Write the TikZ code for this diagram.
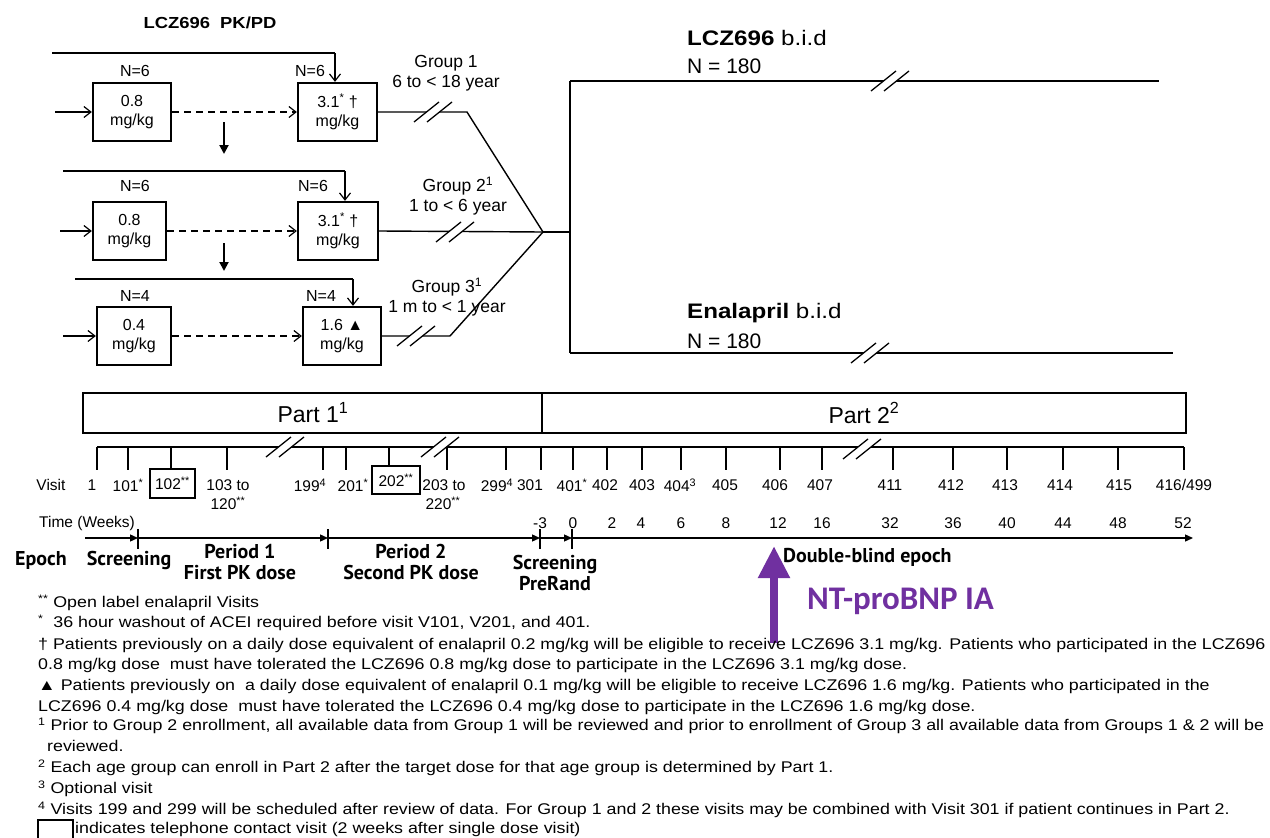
\documentclass[tikz,border=0pt]{standalone}
\usepackage{fontspec}
\setmainfont{Liberation Sans}
\newfontfamily\fnfont{Liberation Sans}[FakeStretch=1.15]
\newfontfamily\epfont{PT Sans}
\newfontfamily\ntfont{Carlito}
\usetikzlibrary{arrows.meta,calc}
\definecolor{ntpurple}{RGB}{112,48,160}
\tikzset{
  dosebox/.style={draw, line width=2.3pt, align=center, inner sep=0pt, minimum height=58pt, font=\fontsize{16}{19}\selectfont},
  nlab/.style={inner sep=0pt, font=\fontsize{16}{19}\selectfont},
  glab/.style={inner sep=0pt, align=center, font=\fontsize{17.5}{20.5}\selectfont},
  ln/.style={line width=1.4pt},
  openarr/.style={ln, -{Straight Barb[length=7pt,width=11pt,line width=1.2pt]}},
  fillarr/.style={line width=2pt, -{Triangle[length=9pt,width=9pt]}},
  vlab/.style={inner sep=0pt, font=\fontsize{15.5}{18}\selectfont},
  eplab/.style={inner sep=0pt, align=center, font=\epfont\bfseries\fontsize{20}{21.5}\selectfont},
  fn/.style={inner sep=0pt, anchor=west, font=\fnfont\fontsize{15.5}{18}\selectfont},
  armlab/.style={inner sep=0pt, anchor=west, font=\fnfont\fontsize{21}{24}\selectfont},
  armn/.style={inner sep=0pt, anchor=west, font=\fontsize{21}{24}\selectfont},
  partlab/.style={inner sep=0pt, font=\fontsize{23}{26}\selectfont},
  brk/.pic={
    \fill[white] (-19,10) -- (6,-10) -- (19,-10) -- (-6,10) -- cycle;
    \draw[line width=1.3pt] (-19,10) -- (6,-10);
    \draw[line width=1.3pt] (-6,10) -- (19,-10);
  },
  tlarr/.style={line width=1.3pt, -{Triangle[length=8pt,width=7pt]}},
}
\begin{document}
\begin{tikzpicture}[x=1pt,y=-1pt]
\useasboundingbox (0,0) rectangle (1270,838);
\fill[white] (0,0) rectangle (1270,838);

% title
\node[inner sep=0pt, font=\fnfont\bfseries\fontsize{16}{19}\selectfont] (title) at (210,23) {LCZ696\ \ PK/PD};

% ---------- dose boxes ----------
\node[dosebox, minimum width=78pt] (b11) at (132,112) {0.8\\mg/kg};
\node[dosebox, minimum width=79pt] (b12) at (337.5,112) {3.1\textsuperscript{*} †\\mg/kg};
\node[dosebox, minimum width=73pt] (b21) at (129.5,231) {0.8\\mg/kg};
\node[dosebox, minimum width=80pt] (b22) at (338,231) {3.1\textsuperscript{*} †\\mg/kg};
\node[dosebox, minimum width=74pt] (b31) at (134,336) {0.4\\mg/kg};
\node[dosebox, minimum width=78pt] (b32) at (342,336) {1.6 ▲\\mg/kg};

\node[nlab] (n11) at (135,71) {N=6};
\node[nlab] (n12) at (310,71) {N=6};
\node[nlab] (n21) at (135,186) {N=6};
\node[nlab] (n22) at (313,186) {N=6};
\node[nlab] (n31) at (135,296) {N=4};
\node[nlab] (n32) at (321,296) {N=4};

% input arrows
\coordinate (i1) at (55,112);
\coordinate (i2) at (60,231);
\coordinate (i3) at (63,336);
\draw[openarr] (i1) -- (b11.west);
\draw[openarr] (i2) -- (b21.west);
\draw[openarr] (i3) -- (b31.west);
% dashed
\draw[openarr, dashed, dash pattern=on 7pt off 5pt] (b11.east) -- (b12.west);
\draw[openarr, dashed, dash pattern=on 7pt off 5pt] (b21.east) -- (b22.west);
\draw[openarr, dashed, dash pattern=on 7pt off 5pt] (b31.east) -- (b32.west);
% top lines
\coordinate (t1) at (52,53);  \coordinate (a1) at (335,53);
\coordinate (t2) at (63,171); \coordinate (a2) at (345,171);
\coordinate (t3) at (75,279); \coordinate (a3) at (353,279);
\draw[ln] (t1) -- (a1);
\draw[openarr] (a1) -- (a1 |- b12.north);
\draw[ln] (t2) -- (a2);
\draw[openarr] (a2) -- (a2 |- b22.north);
\draw[ln] (t3) -- (a3);
\draw[openarr] (a3) -- (a3 |- b32.north);
% down arrows
\coordinate (d1a) at (224,122); \coordinate (d1b) at (224,154);
\coordinate (d2a) at (224,243); \coordinate (d2b) at (224,271);
\draw[fillarr] (d1a) -- (d1b);
\draw[fillarr] (d2a) -- (d2b);

% outputs to merge
\coordinate (m) at (543,232);
\coordinate (k1) at (467,112);
\coordinate (k3) at (450,336);
\draw[ln] (b12.east) -- (k1) -- (m);
\draw[ln] (b22.east) -- (m);
\draw[ln] (b32.east) -- (k3) -- (m);
\coordinate (vm) at (570,232);
\coordinate (vt) at (570,81);
\coordinate (vb) at (570,353);
\coordinate (et) at (1159,81);
\coordinate (eb) at (1173,353);
\draw[ln] (m) -- (vm);
\draw[ln] (vt) -- (vb);
\draw[ln] (vt) -- (et);
\draw[ln] (vb) -- (eb);

\node[glab] (g1) at (446,73) {Group 1\\6 to < 18 year};
\node[glab] (g2) at (458,196) {Group 2\textsuperscript{1}\\1 to < 6 year};
\node[glab] (g3) at (447,297) {Group 3\textsuperscript{1}\\1 m to < 1 year};

\node[armlab] (arm1) at (687,38) {\textbf{LCZ696} b.i.d};
\node[armn] (arm1n) at (687,66) {N = 180};
\node[armlab] (arm2) at (687,313) {\textbf{Enalapril} b.i.d};
\node[armn] (arm2n) at (687,341) {N = 180};

% ---------- Part boxes ----------
\draw[line width=2.3pt] (83,393) rectangle (1186,433);
\draw[line width=2.3pt] (542,393) -- (542,433);
\node[partlab] (p1) at (313,413) {Part 1\textsuperscript{1}};
\node[partlab] (p2) at (864,413) {Part 2\textsuperscript{2}};

% ---------- visit line ----------
\coordinate (vl0) at (97,447);
\coordinate (vl1) at (1184,447);
\draw[line width=1.3pt] (vl0) -- (vl1);
\foreach \x in {97,128,227,323,346,447,506,541,573,607,642,681,726,780,822,893,953,1007,1063,1118,1184}
  \draw[line width=1.3pt] (\x,447) -- (\x,470);
\draw[line width=1.3pt] (171,447) -- (171,469);
\draw[line width=1.3pt] (389,447) -- (389,466);

% breaks
\pic at (433,112) {brk};
\pic at (455,232) {brk};
\pic at (416,336) {brk};
\pic at (890,81) {brk};
\pic at (870,353) {brk};
\pic at (285,447) {brk};
\pic at (440,447) {brk};
\pic at (862,449) {brk};

% visit labels
\node[vlab] (vis) at (51,485) {Visit};
\node[draw, line width=1.3pt, minimum width=45pt, minimum height=29pt, inner sep=0pt, font=\fontsize{15.5}{18}\selectfont] (bx102) at (172.5,483.5) {102\textsuperscript{**}};
\node[draw, line width=1.3pt, minimum width=48pt, minimum height=28pt, inner sep=0pt, font=\fontsize{15.5}{18}\selectfont] (bx202) at (396,480) {202\textsuperscript{**}};
\foreach \x/\t [count=\i] in {92/1, 128/{101\textsuperscript{*}}, 228/{103 to}, 310/{199\textsuperscript{4}}, 353/{201\textsuperscript{*}}, 444/{203 to}, 497/{299\textsuperscript{4}}, 530/301, 572/{401\textsuperscript{*}}, 605/402, 642/403, 680/{404\textsuperscript{3}}, 725/405, 775/406, 820/407, 890/411, 951/412, 1005/413, 1060/414, 1119/415}
  \node[vlab] (v\i) at (\x,485) {\t};
\node[vlab] (v416) at (1184,485) {416/499};
\node[vlab] (v120) at (228,503) {120\textsuperscript{**}};
\node[vlab] (v220) at (443,503) {220\textsuperscript{**}};

% time labels
\node[vlab] (tw) at (87,523) {Time (Weeks)};
\foreach \x/\t [count=\i] in {540/-3, 573/0, 612/2, 641/4, 681/6, 726/8, 778/12, 822/16, 890/32, 953/36, 1007/40, 1063/44, 1118/48, 1183/52}
  \node[vlab] (w\i) at (\x,523) {\t};

% epoch arrow line
\coordinate (e0) at (85,538);
\coordinate (e1) at (138,538);
\coordinate (e2) at (328,538);
\coordinate (e3) at (540,538);
\coordinate (e4) at (572,538);
\coordinate (e5) at (1193,538);
\draw[tlarr] (e0) -- (e1);
\draw[tlarr] (e1) -- (e2);
\draw[tlarr] (e2) -- (e3);
\draw[tlarr] (e3) -- (e4);
\draw[tlarr] (e4) -- (e5);
\foreach \c in {e1,e2,e3,e4}
  \draw[line width=1.3pt] ($(\c)+(0,-9)$) -- ($(\c)+(0,11)$);

\node[eplab] (ep) at (41,560) {Epoch};
\node[eplab] (ep1) at (129,560) {Screening};
\node[eplab] (ep2) at (240,562) {Period 1\\First PK dose};
\node[eplab] (ep3) at (411,562) {Period 2\\Second PK dose};
\node[eplab] (ep4) at (555,573) {Screening\\PreRand};
\node[eplab, anchor=west] (ep5) at (783,557) {Double-blind epoch};

% NT-proBNP arrow
\coordinate (pa0) at (774,643);
\coordinate (pa1) at (774,546);
\draw[ntpurple, line width=8pt, -{Triangle[length=32pt,width=30pt]}] (pa0) -- (pa1);
\node[inner sep=0pt, anchor=west, text=ntpurple, font=\ntfont\bfseries\fontsize{33}{36}\selectfont] (nt) at (807,601) {NT-proBNP IA};

% footnotes
\node[fn] (f1) at (38,603) {\textsuperscript{**} Open label enalapril Visits};
\node[fn] (f2) at (38,623) {\textsuperscript{*}\ \ 36 hour washout of ACEI required before visit V101, V201, and 401.};
\node[fn] (f3) at (38,645) {† Patients previously on a daily dose equivalent of enalapril 0.2 mg/kg will be eligible to receive LCZ696 3.1 mg/kg. Patients who participated in the LCZ696};
\node[fn] (f4) at (38,665) {0.8 mg/kg dose\ \ must have tolerated the LCZ696 0.8 mg/kg dose to participate in the LCZ696 3.1 mg/kg dose.};
\node[fn] (f5) at (38,686) {▲ Patients previously on\ \ a daily dose equivalent of enalapril 0.1 mg/kg will be eligible to receive LCZ696 1.6 mg/kg. Patients who participated in the};
\node[fn] (f6) at (38,707) {LCZ696 0.4 mg/kg dose\ \ must have tolerated the LCZ696 0.4 mg/kg dose to participate in the LCZ696 1.6 mg/kg dose.};
\node[fn] (f7) at (38,726) {\textsuperscript{1} Prior to Group 2 enrollment, all available data from Group 1 will be reviewed and prior to enrollment of Group 3 all available data from Groups 1 \& 2 will be};
\node[fn] (f8) at (47,746) {reviewed.};
\node[fn] (f9) at (38,768) {\textsuperscript{2} Each age group can enroll in Part 2 after the target dose for that age group is determined by Part 1.};
\node[fn] (f10) at (38,789) {\textsuperscript{3} Optional visit};
\node[fn] (f11) at (38,810) {\textsuperscript{4} Visits 199 and 299 will be scheduled after review of data. For Group 1 and 2 these visits may be combined with Visit 301 if patient continues in Part 2.};
\node[draw, line width=1.2pt, minimum width=35pt, minimum height=30pt, inner sep=0pt] (fbox) at (55.5,835) {};
\node[fn] (f12) at (75,829) {indicates telephone contact visit (2 weeks after single dose visit)};
\end{tikzpicture}
\end{document}
